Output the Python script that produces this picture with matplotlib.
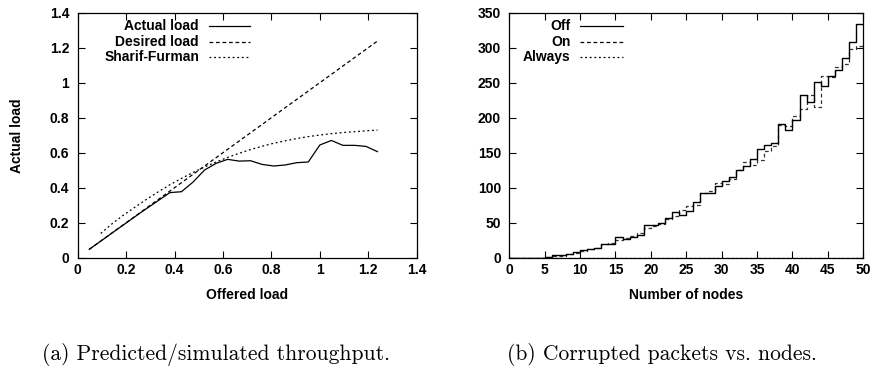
import matplotlib
matplotlib.use("Agg")
import matplotlib.pyplot as plt
import numpy as np

# ---- left panel: offered vs actual load ----
offered = [k / 21 for k in range(1, 27)]
actual = [0.048, 0.095, 0.142, 0.189, 0.236, 0.282, 0.327, 0.372, 0.377, 0.432,
          0.501, 0.539, 0.562, 0.552, 0.554, 0.533, 0.524, 0.530, 0.543, 0.547,
          0.644, 0.670, 0.642, 0.642, 0.636, 0.606]
desired = offered
sf_offered = offered[1:]
sharif_furman = [0.139, 0.195, 0.245, 0.290, 0.335, 0.377, 0.417, 0.453, 0.487,
                 0.518, 0.547, 0.573, 0.597, 0.618, 0.637, 0.654, 0.668, 0.681,
                 0.692, 0.701, 0.709, 0.715, 0.720, 0.725, 0.729]

# ---- right panel: corrupted packets vs number of nodes ----
nodes = list(range(0, 51))
off = [0, 0, 0, 0, 0, 1, 4, 4, 6, 8,
       11, 13, 14, 20, 20, 29, 27, 30, 33, 47,
       47, 49, 57, 65, 61, 67, 79, 93, 93, 103,
       110, 116, 126, 131, 141, 156, 161, 164, 191, 182,
       197, 232, 223, 251, 245, 260, 268, 285, 308, 334, 334]
on = [0, 0, 0, 0, 0, 1, 3, 3, 5, 7,
      10, 12, 14, 19, 21, 26, 28, 31, 35, 42,
      45, 48, 55, 59, 68, 74, 76, 92, 95, 107,
      106, 113, 126, 137, 133, 140, 152, 160, 190, 188,
      203, 213, 232, 215, 259, 258, 272, 276, 298, 302, 302]
always = [0] * 51

left_ticks = [0, 0.2, 0.4, 0.6, 0.8, 1, 1.2, 1.4]
left_labels = ['0', '0.2', '0.4', '0.6', '0.8', '1', '1.2', '1.4']
right_xticks = list(range(0, 51, 5))
right_yticks = list(range(0, 351, 50))

sans = ['Liberation Sans', 'DejaVu Sans']
plt.rcParams['font.family'] = sans
plt.rcParams['font.weight'] = 'bold'
plt.rcParams['font.size'] = 10

solid = '-'
dashed = (0, (3.0, 2.2))
dotted = (0, (1.5, 2.2))

fig = plt.figure(figsize=(8.75, 3.69), dpi=100)
ax1 = fig.add_axes([0.0888, 0.3016, 0.3874, 0.664])
ax2 = fig.add_axes([0.582, 0.3016, 0.4046, 0.664])

ax1.plot(offered, actual, color='black', lw=0.9, ls=solid)
ax1.plot(offered, desired, color='black', lw=0.9, ls=dashed)
ax1.plot(sf_offered, sharif_furman, color='black', lw=0.9, ls=dotted)
ax1.set_xlim(0, 1.4)
ax1.set_ylim(0, 1.4)
ax1.set_xticks(left_ticks, left_labels)
ax1.set_yticks(left_ticks, left_labels)
ax1.set_xlabel('Offered load', fontweight='bold')
ax1.set_ylabel('Actual load', fontweight='bold')
ax1.yaxis.set_label_coords(-0.158, 0.5)
ax1.xaxis.set_label_coords(0.5, -0.125)

ax2.step(nodes, always, where='post', color='black', lw=0.9, ls=dotted, zorder=1)
ax2.step(nodes, on, where='post', color='#333333', lw=0.9, ls=dashed, zorder=2)
ax2.step(nodes, off, where='post', color='black', lw=1.0, ls=solid, zorder=3)
ax2.set_xlim(0, 50)
ax2.set_ylim(0, 350)
ax2.set_xticks(right_xticks)
ax2.set_yticks(right_yticks)
ax2.set_xlabel('Number of nodes', fontweight='bold')
ax2.xaxis.set_label_coords(0.5, -0.125)

for ax in (ax1, ax2):
    ax.tick_params(direction='in', top=True, right=True, length=5, width=0.8)
    ax.tick_params(axis='x', pad=4)
    ax.tick_params(axis='y', pad=6)
    for s in ax.spines.values():
        s.set_linewidth(0.9)

# gnuplot-style keys: right-aligned text, sample line to its right
def key(ax, labels, styles, text_x, x0, x1):
    rows = [0.946, 0.880, 0.818]
    for lab, st, y in zip(labels, styles, rows):
        ax.text(text_x, y, lab, transform=ax.transAxes, ha='right', va='center',
                fontweight='bold')
        ax.plot([x0, x1], [y, y], transform=ax.transAxes, color='black',
                lw=0.9, ls=st, clip_on=False)

key(ax1, ['Actual load', 'Desired load', 'Sharif-Furman'],
    [solid, dashed, dotted], 0.358, 0.388, 0.509)
key(ax2, ['Off', 'On', 'Always'], [solid, dashed, dotted], 0.173, 0.200, 0.320)

fig.text(42 / 875, 1 - 355 / 369, '(a) Predicted/simulated throughput.',
         family='cmr10', fontweight='normal', fontsize=15.5, ha='left', va='center')
fig.text(507 / 875, 1 - 355 / 369, '(b) Corrupted packets vs. nodes.',
         family='cmr10', fontweight='normal', fontsize=15.5, ha='left', va='center')

fig.savefig('out.png', dpi=100)
